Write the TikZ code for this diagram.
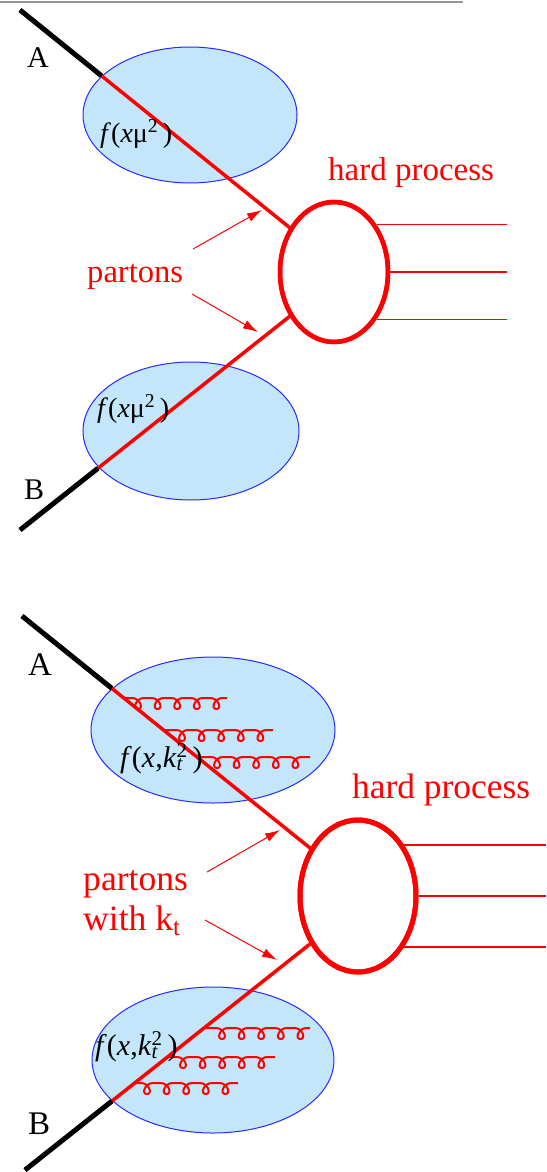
\documentclass[tikz,border=0pt]{standalone}
\usepackage{fontspec}
\setmainfont{Liberation Serif}
\usetikzlibrary{shapes.geometric,arrows.meta,calc}

\definecolor{pdfblue}{RGB}{40,40,255}
\definecolor{pdffill}{RGB}{196,230,250}
\definecolor{hardred}{RGB}{255,0,0}
\definecolor{rulegray}{RGB}{150,150,150}

\tikzset{
  pdf/.style={ellipse, draw=pdfblue, fill=pdffill, line width=1pt, inner sep=0pt},
  hard/.style={ellipse, draw=hardred, inner sep=0pt},
  beam/.style={line width=5pt, black},
  parton/.style={line width=3.5pt, hardred},
  outgoing/.style={line width=1.5pt, hardred},
  pointer/.style={line width=1pt, hardred, -{Latex[length=15pt,width=9pt]}},
  gluon/.style={line width=2pt, hardred},
  lbl/.style={inner sep=0pt, anchor=base west},
  redlbl/.style={lbl, text=hardred},
}

% one row of emitted gluons: start x, y, first curl x, end x
\newcommand\gluonrow[4]{%
  \draw[gluon] (#1,#2) foreach \k in {0,...,4} {
    -- ({#3+19.6*\k-6},#2)
       .. controls ({#3+19.6*\k+2},#2) and ({#3+19.6*\k+6},#2+11) .. ({#3+19.6*\k},#2+11)
       .. controls ({#3+19.6*\k-6},#2+11) and ({#3+19.6*\k-2},#2) .. ({#3+19.6*\k+6},#2)
  } -- (#4,#2);}

\begin{document}
\begin{tikzpicture}[x=1pt, y=-1pt]
\useasboundingbox (0,0) rectangle (546,1172);

% rule at the top
\coordinate (ruleL) at (0,2.5);
\coordinate (ruleR) at (463,2.5);
\draw[rulegray, line width=2pt] (ruleL) -- (ruleR);

% ---------------- collinear picture ----------------
\node[pdf, minimum width=214pt, minimum height=136pt] (pdfA1) at (190,115) {};
\node[pdf, minimum width=216pt, minimum height=138pt] (pdfB1) at (191,431) {};
\node[hard, line width=4.5pt, minimum width=108pt, minimum height=140pt] (hard1) at (334,272) {};

\coordinate (beamA1) at (20,10);
\coordinate (beamB1) at (20,530);
\draw[parton] (beamA1) -- (hard1.135);
\draw[beam] (beamA1) -- ($(beamA1)!0.3026!(hard1.135)$);
\draw[parton] (hard1.225) -- (beamB1);
\draw[beam] ($(hard1.225)!0.711!(beamB1)$) -- (beamB1);

\coordinate (outEnd1) at (507,272);
\draw[outgoing] (hard1.48.5) -- (hard1.48.5 -| outEnd1);
\draw[outgoing] (hard1.east) -- (outEnd1);
\draw[outgoing] (hard1.-48.5) -- (hard1.-48.5 -| outEnd1);
\node[hard, line width=4.5pt, minimum width=108pt, minimum height=140pt] at (hard1) {};

\node[lbl, font=\fontsize{30}{36}\selectfont] (labA1) at (27,67) {A};
\node[lbl, font=\fontsize{30}{36}\selectfont] (labB1) at (24,499) {B};
\node[lbl, font=\fontsize{28}{34}\selectfont] (fA1) at (100,142) {\textit{f}(\textit{x}μ\textsuperscript{2}\,)};
\node[lbl, font=\fontsize{28}{34}\selectfont] (fB1) at (97,417) {\textit{f}(\textit{x}μ\textsuperscript{2}\,)};

\node[redlbl, font=\fontsize{33}{40}\selectfont] (hpText1) at (328,180) {hard process};
\node[redlbl, font=\fontsize{32.6}{40}\selectfont] (partons1) at (87,282) {partons};

\coordinate (ptrA1s) at (193,249);
\coordinate (ptrA1e) at (262,210);
\coordinate (ptrB1s) at (192,294);
\coordinate (ptrB1e) at (258,332);
\draw[pointer] (ptrA1s) -- (ptrA1e);
\draw[pointer] (ptrB1s) -- (ptrB1e);

% ---------------- kt-dependent picture ----------------
\node[pdf, minimum width=244pt, minimum height=146pt] (pdfA2) at (213,730) {};
\node[pdf, minimum width=242pt, minimum height=146pt] (pdfB2) at (213,1060) {};
\node[hard, line width=5pt, minimum width=116pt, minimum height=152pt] (hard2) at (358,896) {};

\gluonrow{124}{698}{138}{227}
\gluonrow{163}{730}{182}{273}
\gluonrow{197}{757}{217}{310}
\gluonrow{204}{1028}{222}{310}
\gluonrow{167}{1057}{183}{275}
\gluonrow{135}{1083}{147}{238}

\coordinate (beamA2) at (22,616);
\coordinate (beamB2) at (25,1170);
\draw[parton] (beamA2) -- (hard2.135);
\draw[beam] (beamA2) -- ($(beamA2)!0.3115!(hard2.135)$);
\draw[parton] (hard2.225) -- (beamB2);
\draw[beam] ($(hard2.225)!0.695!(beamB2)$) -- (beamB2);

\coordinate (outEnd2) at (546,896);
\draw[outgoing] (hard2.48) -- (hard2.48 -| outEnd2);
\draw[outgoing] (hard2.east) -- (outEnd2);
\draw[outgoing] (hard2.-48) -- (hard2.-48 -| outEnd2);
\node[hard, line width=5pt, minimum width=116pt, minimum height=152pt] at (hard2) {};

\node[lbl, font=\fontsize{33}{40}\selectfont] (labA2) at (28,675) {A};
\node[lbl, font=\fontsize{33}{40}\selectfont] (labB2) at (28,1134) {B};
\node[lbl, font=\fontsize{30}{36}\selectfont] (fA2) at (120,767)
  {\textit{f}(\textit{x},\textit{k}\rlap{\textsubscript{\textit{t}}}\textsuperscript{2}\,)};
\node[lbl, font=\fontsize{30}{36}\selectfont] (fB2) at (95,1055)
  {\textit{f}(\textit{x},\textit{k}\rlap{\textsubscript{\textit{t}}}\textsuperscript{2}\,)};

\node[redlbl, font=\fontsize{35.4}{42}\selectfont] (hpText2) at (352,798) {hard process};
\node[redlbl, font=\fontsize{35.6}{42}\selectfont] (partons2) at (83,890) {partons};
\node[redlbl, font=\fontsize{35.6}{42}\selectfont] (withkt) at (83,930) {with k\textsubscript{t}};

\coordinate (ptrA2s) at (207,872);
\coordinate (ptrA2e) at (280,830);
\coordinate (ptrB2s) at (205,920);
\coordinate (ptrB2e) at (277,960);
\draw[pointer] (ptrA2s) -- (ptrA2e);
\draw[pointer] (ptrB2s) -- (ptrB2e);
\end{tikzpicture}
\end{document}
